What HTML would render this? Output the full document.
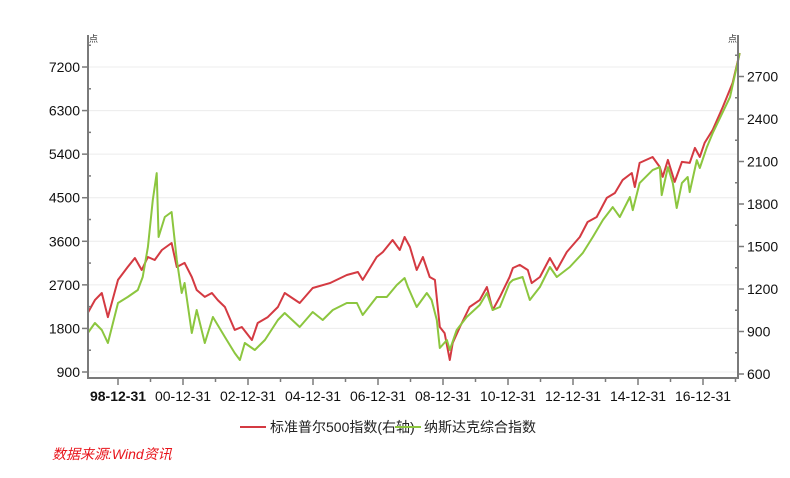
<!DOCTYPE html>
<html><head><meta charset="utf-8"><style>
html,body{margin:0;padding:0;background:#fff;}
body{width:790px;height:473px;overflow:hidden;font-family:"Liberation Sans","Noto Sans CJK SC",sans-serif;}
svg text{font-family:"Liberation Sans","Noto Sans CJK SC",sans-serif;}
</style></head><body>
<svg id="chart" width="790" height="473" viewBox="0 0 790 473" xmlns="http://www.w3.org/2000/svg"></svg>
<script>
const leftTicks=[900,1800,2700,3600,4500,5400,6300,7200];
const rightTicks=[600,900,1200,1500,1800,2100,2400,2700];
const xTickYears=[1999,2001,2003,2005,2007,2009,2011,2013,2015,2017];
const xTickLabels=["98-12-31","00-12-31","02-12-31","04-12-31","06-12-31","08-12-31","10-12-31","12-12-31","14-12-31","16-12-31"];
const spDates=[1998.07,1998.29,1998.50,1998.69,1999.00,1999.30,1999.52,1999.73,1999.92,2000.13,2000.35,2000.65,2000.81,2001.05,2001.27,2001.42,2001.67,2001.89,2002.07,2002.29,2002.59,2002.81,2003.12,2003.30,2003.61,2003.92,2004.13,2004.59,2004.99,2005.52,2006.04,2006.38,2006.53,2006.96,2007.15,2007.45,2007.67,2007.82,2007.98,2008.19,2008.38,2008.59,2008.75,2008.90,2009.05,2009.21,2009.30,2009.52,2009.82,2010.13,2010.35,2010.53,2010.75,2011.05,2011.15,2011.36,2011.61,2011.73,2011.98,2012.29,2012.50,2012.81,2013.21,2013.45,2013.73,2014.04,2014.29,2014.53,2014.81,2014.90,2015.05,2015.45,2015.67,2015.76,2015.92,2016.13,2016.35,2016.59,2016.75,2016.90,2017.05,2017.30,2017.61,2017.91,2018.13];
const spValues=[1031,1122,1172,1002,1264,1355,1419,1334,1426,1405,1475,1525,1355,1384,1285,1193,1144,1172,1122,1073,911,932,840,960,1002,1073,1172,1101,1207,1242,1299,1320,1264,1426,1461,1546,1475,1567,1497,1334,1426,1285,1264,932,889,699,819,932,1073,1122,1214,1052,1144,1285,1348,1370,1334,1242,1285,1419,1334,1461,1567,1673,1708,1843,1878,1970,2019,1920,2090,2132,2061,1991,2111,1956,2097,2090,2196,2132,2231,2323,2485,2654,2866];
const ndDates=[1998.07,1998.29,1998.50,1998.69,1999.00,1999.30,1999.61,1999.76,1999.92,2000.07,2000.19,2000.25,2000.44,2000.65,2000.81,2000.96,2001.05,2001.27,2001.42,2001.67,2001.92,2002.29,2002.59,2002.75,2002.90,2003.21,2003.52,2003.92,2004.13,2004.59,2004.99,2005.30,2005.61,2006.04,2006.35,2006.53,2006.96,2007.27,2007.58,2007.82,2007.92,2008.19,2008.50,2008.65,2008.81,2008.90,2009.12,2009.21,2009.42,2009.73,2010.13,2010.35,2010.53,2010.75,2011.05,2011.15,2011.45,2011.67,2011.98,2012.29,2012.50,2012.90,2013.30,2013.61,2013.92,2014.22,2014.44,2014.75,2014.84,2015.05,2015.45,2015.67,2015.73,2015.92,2016.07,2016.19,2016.35,2016.53,2016.59,2016.81,2016.90,2017.12,2017.30,2017.83,2018.13];
const ndValues=[1705,1912,1767,1499,2325,2449,2593,2862,3481,4452,5009,3688,4101,4204,3213,2531,2738,1705,2180,1499,2036,1623,1292,1148,1499,1354,1561,1974,2118,1829,2139,1974,2180,2325,2325,2077,2449,2449,2697,2841,2655,2242,2531,2387,1974,1396,1561,1354,1767,2036,2284,2531,2180,2242,2738,2800,2862,2387,2655,3068,2862,3068,3357,3688,4039,4307,4101,4514,4245,4803,5071,5133,4555,5133,4803,4287,4803,4927,4617,5278,5113,5546,5835,6579,7488];

const NS="http://www.w3.org/2000/svg";
const svg=document.getElementById('chart');
const X0=88,X1=738,YB=378,YT=35;
function xS(t){return 118+(t-1999.0)*32.5;}
function yL(v){return 372-(v-900)/900*43.57;}
function yR(v){return 374-(v-600)/300*42.5;}
function mk(tag,attrs,parent){const e=document.createElementNS(NS,tag);for(const k in attrs)e.setAttribute(k,attrs[k]);(parent||svg).appendChild(e);return e;}

// gridlines
leftTicks.forEach(v=>{
  const g=mk('line',{x1:X0,x2:X1,y1:yL(v),y2:yL(v),stroke:'#ececec','stroke-width':1});
  
  
});
// series
function series(dates,vals,yf,color,name){
  const pts=dates.map((d,i)=>xS(d).toFixed(1)+','+yf(vals[i]).toFixed(1)).join(' ');
  const p=mk('polyline',{points:pts,fill:'none',stroke:color,'stroke-width':2,'stroke-linejoin':'round'});
  
  
}
series(spDates,spValues,yR,'#d43a42','sp500-line');
series(ndDates,ndValues,yL,'#8cc63f','nasdaq-line');

// axes
const ax=mk('path',{d:`M${X0},${YT}V${YB}H${X1}V${YT}`,fill:'none',stroke:'#7a7a7a','stroke-width':2});



// left ticks
for(let v=900;v<=7650;v+=450){
  const major=(v%900===0);
  const y=yL(v);
  const t=mk('line',{x1:major?X0-6:X0-0,x2:X0+ (major?0:3),y1:y,y2:y,stroke:'#7a7a7a','stroke-width':1.5});
  
  
}
leftTicks.forEach(v=>{
  const t=mk('text',{x:X0-8,y:yL(v)+5,'text-anchor':'end','font-size':14,fill:'#111'});
  t.textContent=v;
  
  
});
// right ticks
for(let v=600;v<=2850;v+=150){
  const major=(v%300===0);
  const y=yR(v);
  const t=mk('line',{x1:X1-(major?0:3),x2:X1+(major?6:0),y1:y,y2:y,stroke:'#7a7a7a','stroke-width':1.5});
  
  
}
rightTicks.forEach(v=>{
  const t=mk('text',{x:X1+9,y:yR(v)+5,'text-anchor':'start','font-size':14,fill:'#111'});
  t.textContent=v;
  
  
});
// x ticks
for(let yr=1998;yr<=2018;yr++){
  const x=xS(yr);
  if(x<X0-1||x>X1+1)continue;
  const major=(yr%2===1);
  const t=mk('line',{x1:x,x2:x,y1:YB,y2:YB+(major?7:4),stroke:'#7a7a7a','stroke-width':1.5});
  
  
}
xTickYears.forEach((yr,i)=>{
  const t=mk('text',{x:xS(yr),y:401,'text-anchor':'middle','font-size':14,fill:'#111','font-weight':i===0?'bold':'normal'});
  t.textContent=xTickLabels[i];
  
  
});
</script>
<svg style="position:absolute;left:0;top:0" width="790" height="473">
  <text x="89" y="42" font-size="9" fill="#333">点</text>
  <text x="728" y="42" font-size="9" fill="#333">点</text>
  <g>
    <line x1="240" y1="427" x2="266" y2="427" stroke="#d43a42" stroke-width="2"/>
    <text x="270" y="432" font-size="14" fill="#222">标准普尔500指数(右轴)</text>
    <line x1="395" y1="427" x2="421" y2="427" stroke="#8cc63f" stroke-width="2"/>
    <text x="424" y="432" font-size="14" fill="#222">纳斯达克综合指数</text>
  </g>
  <text x="52" y="459" font-size="14" font-style="italic" fill="#e8141b">数据来源:Wind资讯</text>
</svg>
</body></html>
